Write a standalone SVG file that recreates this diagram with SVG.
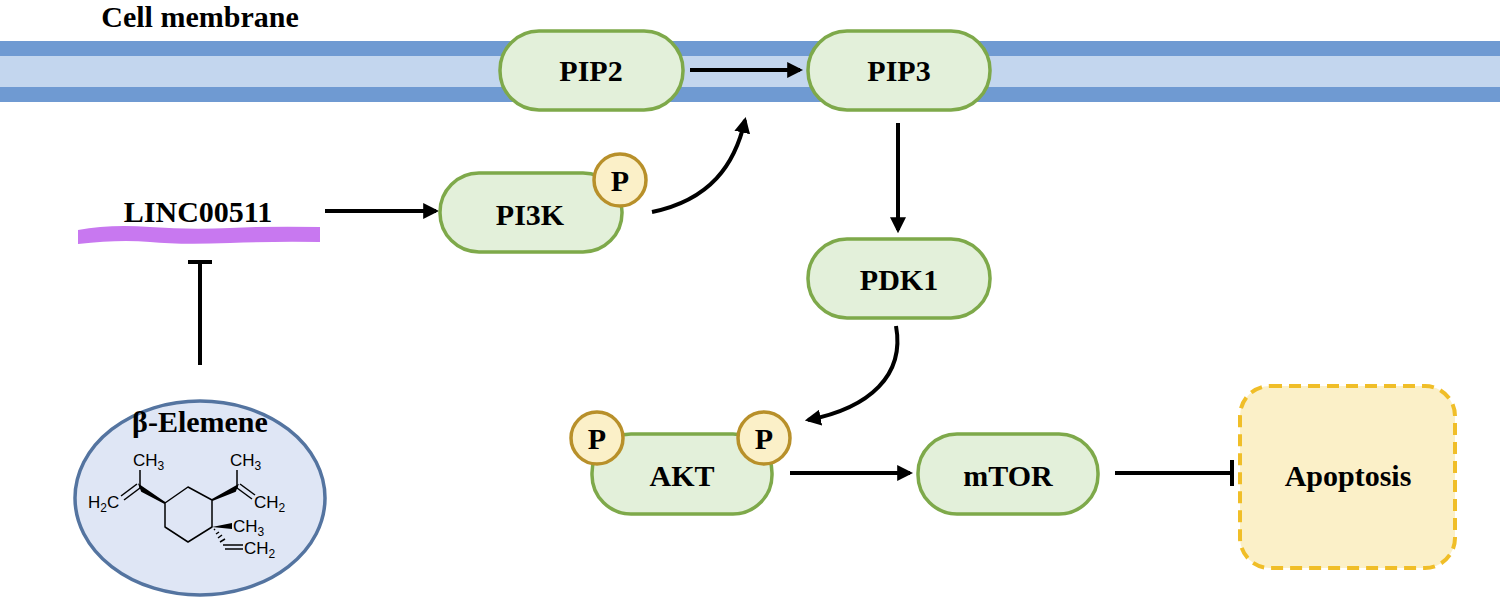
<svg xmlns="http://www.w3.org/2000/svg" width="1500" height="604" viewBox="0 0 1500 604">
<defs>
<style>
.n{fill:#e3f0da;stroke:#7ea94a;stroke-width:3.5}
.t{font-family:"Liberation Serif",serif;font-weight:bold;font-size:30px;text-anchor:middle;fill:#000}
.p{fill:#fbf0c8;stroke:#b8902a;stroke-width:3.5}
.c{stroke:#000;stroke-width:4;fill:none}
.ch{font-family:"Liberation Sans",sans-serif;font-size:17px;fill:#000}
.b{stroke:#000;stroke-width:1.5;fill:none}
</style>
<marker id="a" viewBox="0 0 10 10" refX="8" refY="5" markerWidth="4" markerHeight="4" orient="auto"><path d="M0,0L10,5L0,10z" fill="#000"/></marker>
</defs>
<rect width="1500" height="604" fill="#fff"/>
<g id="membrane">
<rect x="0" y="41" width="1500" height="61" fill="#6f9ad2"/>
<rect x="0" y="56" width="1500" height="31" fill="#c3d6ee"/>
<text x="200" y="27" class="t" font-size="28">Cell membrane</text>
</g>
<g id="connectors">
<line class="c" x1="690" y1="70" x2="800" y2="70" marker-end="url(#a)"/>
<path class="c" d="M652,212 C710,200 735,165 745,120" marker-end="url(#a)"/>
<line class="c" x1="325" y1="211" x2="436" y2="211" marker-end="url(#a)"/>
<line class="c" x1="898" y1="123" x2="898" y2="230" marker-end="url(#a)"/>
<path class="c" d="M896,326 C905,375 870,408 808,420" marker-end="url(#a)"/>
<line class="c" x1="790" y1="473" x2="910" y2="473" marker-end="url(#a)"/>
<line class="c" x1="1115" y1="473" x2="1232" y2="473"/>
<line class="c" x1="1232" y1="460" x2="1232" y2="486"/>
<line class="c" x1="200" y1="365" x2="200" y2="262"/>
<line class="c" x1="188" y1="262" x2="212" y2="262"/>
</g>
<g id="PIP2"><rect class="n" x="500" y="31" width="183" height="79" rx="39"/><text class="t" x="591" y="81">PIP2</text></g>
<g id="PIP3"><rect class="n" x="808" y="31" width="182" height="79" rx="39"/><text class="t" x="899" y="81">PIP3</text></g>
<g id="PI3K"><rect class="n" x="440" y="173" width="182" height="79" rx="39"/><text class="t" x="530" y="225">PI3K</text>
<circle class="p" cx="620" cy="180" r="26"/><text class="t" x="620" y="191">P</text></g>
<g id="PDK1"><rect class="n" x="808" y="239" width="182" height="79" rx="39"/><text class="t" x="899" y="290">PDK1</text></g>
<g id="AKT"><rect class="n" x="592" y="434" width="180" height="80" rx="39"/><text class="t" x="682" y="486">AKT</text>
<circle class="p" cx="597" cy="438" r="26"/><text class="t" x="597" y="449">P</text>
<circle class="p" cx="764" cy="438" r="26"/><text class="t" x="764" y="449">P</text></g>
<g id="mTOR"><rect class="n" x="918" y="434" width="180" height="80" rx="39"/><text class="t" x="1008" y="486">mTOR</text></g>
<g id="Apoptosis"><rect x="1240" y="386" width="215" height="182" rx="30" fill="#fbf0c8" stroke="#f0be28" stroke-width="4" stroke-dasharray="12,7"/><text class="t" x="1348" y="486">Apoptosis</text></g>
<g id="LINC00511"><text class="t" x="198" y="222">LINC00511</text>
<path d="M78,230 Q110,224 150,227 T230,228 T320,227 L320,242 Q280,241 230,243 T150,242 T78,244 Z" fill="#c878f0"/></g>
<g id="beta-Elemene">
<ellipse cx="200" cy="498" rx="125" ry="97" fill="#dfe6f5" stroke="#5474a0" stroke-width="3.5"/>
<text class="t" x="200" y="432">β-Elemene</text>
<polygon class="b" points="165,503 188,487 212,500 212,527 188,542 165,527" stroke-linejoin="round"/>
<polygon points="165,503 140,486 142,491" fill="#000" stroke="#000" stroke-width="2"/>
<line class="b" x1="140" y1="488" x2="140" y2="470"/>
<line class="b" x1="140" y1="488" x2="124" y2="500"/>
<line class="b" x1="137" y1="484" x2="121" y2="496"/>
<text class="ch" x="133" y="466">CH<tspan font-size="12" dy="4">3</tspan></text>
<text class="ch" x="88" y="508">H<tspan font-size="12" dy="4">2</tspan><tspan dy="-4">C</tspan></text>
<polygon points="212,500 237,486 235,491" fill="#000" stroke="#000" stroke-width="2"/>
<line class="b" x1="237" y1="488" x2="237" y2="470"/>
<line class="b" x1="237" y1="488" x2="252" y2="499"/>
<line class="b" x1="240" y1="484" x2="255" y2="495"/>
<text class="ch" x="230" y="466">CH<tspan font-size="12" dy="4">3</tspan></text>
<text class="ch" x="254" y="508">CH<tspan font-size="12" dy="4">2</tspan></text>
<polygon points="212,527 232,523 232,529" fill="#000"/>
<text class="ch" x="233" y="532">CH<tspan font-size="12" dy="4">3</tspan></text>
<path class="b" d="M214,530l1,-1M216,534l3,-2M218,538l4,-3M220,542l5,-3"/>
<line class="b" x1="223" y1="545" x2="243" y2="545"/>
<line class="b" x1="225" y1="549" x2="243" y2="549"/>
<text class="ch" x="244" y="554">CH<tspan font-size="12" dy="4">2</tspan></text>
</g>
</svg>
